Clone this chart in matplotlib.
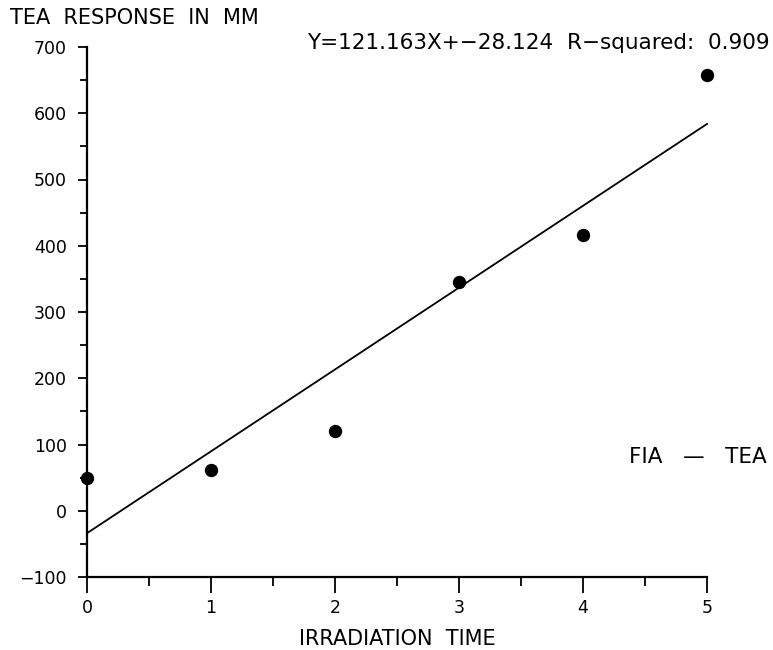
import numpy as np
import matplotlib
matplotlib.use("Agg")
import matplotlib.pyplot as plt
from matplotlib.ticker import MultipleLocator

# Data
irradiation_time = [0, 1, 2, 3, 4, 5]
tea_response = [50, 61, 121, 345, 416, 657]
x_ticks = [0, 1, 2, 3, 4, 5]
y_ticks = [-100, 0, 100, 200, 300, 400, 500, 600, 700]
equation_text = "Y=121.163X+\u221228.124  R\u2212squared:  0.909"
y_title = "TEA  RESPONSE  IN  MM"
x_title = "IRRADIATION  TIME"
series_label = "FIA   \u2014   TEA"

plt.rcParams['font.family'] = ['DejaVu Sans']

fig = plt.figure(figsize=(7.73, 6.5), dpi=100)
ax = fig.add_axes([87/773, (650-577)/650, (707-87)/773, (577-47)/650])

# fitted regression line from the data
slope, intercept = np.polyfit(irradiation_time, tea_response, 1)
xs = np.array([min(irradiation_time), max(irradiation_time)])
ax.plot(xs, slope*xs + intercept, color='black', lw=1.3, clip_on=False)

ax.plot(irradiation_time, tea_response, 'o', color='black', ms=8.6, clip_on=False)

ax.set_xlim(0, 5)
ax.set_ylim(-100, 700)
ax.set_xticks(x_ticks)
ax.set_yticks(y_ticks)
ax.xaxis.set_minor_locator(MultipleLocator(0.5))
ax.yaxis.set_minor_locator(MultipleLocator(50))

for s in ['top', 'right']:
    ax.spines[s].set_visible(False)
for s in ['left', 'bottom']:
    ax.spines[s].set_linewidth(1.6)

ax.tick_params(axis='x', which='major', direction='out', length=11.5, width=1.3, pad=4, labelsize=12.5)
ax.tick_params(axis='x', which='minor', direction='out', length=6.5, width=1.3)
ax.tick_params(axis='y', which='major', direction='out', length=6.5, width=1.3, pad=8, labelsize=12.5)
ax.tick_params(axis='y', which='minor', direction='out', length=4.7, width=1.3)

ax.set_xlabel(x_title, fontsize=15, labelpad=9)
fig.text(10/773, 1 - 18/650, y_title, fontsize=15, ha='left', va='center')
fig.text(770/773, 1 - 43/650, equation_text, fontsize=15.5, ha='right', va='center')
fig.text(767/773, 1 - 457/650, series_label, fontsize=15.5, ha='right', va='center')

fig.savefig("out.png", dpi=100)
